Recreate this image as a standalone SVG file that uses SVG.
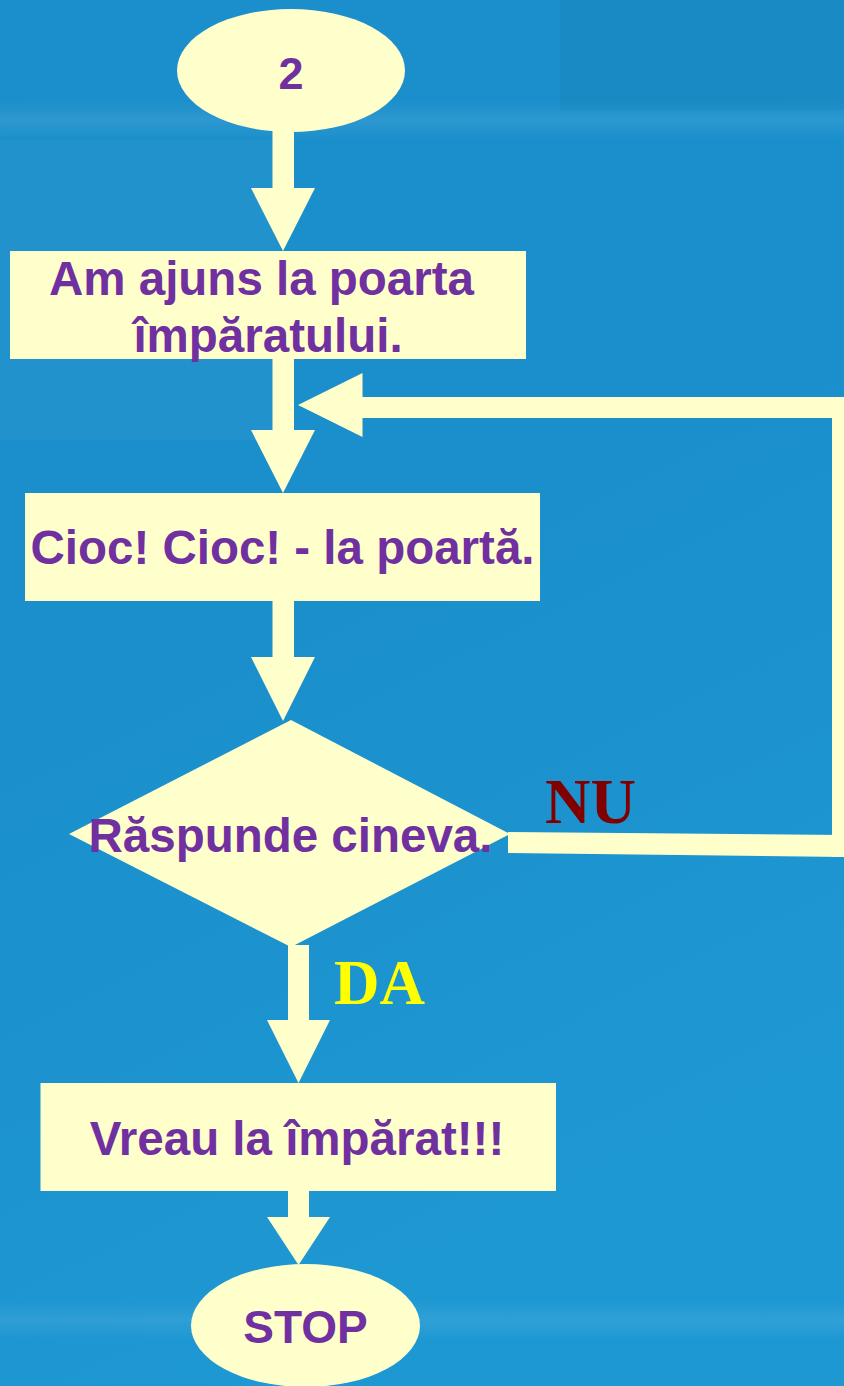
<svg xmlns="http://www.w3.org/2000/svg" width="844" height="1386" viewBox="0 0 844 1386">
  <defs>
    <linearGradient id="bg" x1="0" y1="0" x2="0.3" y2="1">
      <stop offset="0" stop-color="#1b8fcb"/>
      <stop offset="0.5" stop-color="#1a8fcc"/>
      <stop offset="1" stop-color="#1e98d3"/>
    </linearGradient>
    <linearGradient id="band" x1="0" y1="0" x2="0" y2="1">
      <stop offset="0" stop-color="#ffffff" stop-opacity="0"/>
      <stop offset="0.5" stop-color="#ffffff" stop-opacity="0.08"/>
      <stop offset="1" stop-color="#ffffff" stop-opacity="0"/>
    </linearGradient>
    <style>
      .shape { fill: #FFFFCC; }
      .edge { fill: #FFFFCC; }
      .lbl { font-family: "Liberation Sans", Arial, sans-serif; font-weight: bold; fill: #7030A0; text-anchor: middle; }
      .cond { font-family: "Liberation Serif", "Times New Roman", serif; font-weight: bold; font-size: 63px; }
    </style>
  </defs>

  <rect x="0" y="0" width="844" height="1386" fill="url(#bg)"/>
  <rect x="0" y="100" width="844" height="40" fill="url(#band)"/>
  <rect x="0" y="1300" width="844" height="40" fill="url(#band)"/>
  <rect x="0" y="140" width="280" height="300" fill="#ffffff" opacity="0.03"/>
  <rect x="560" y="0" width="284" height="110" fill="#000000" opacity="0.03"/>

  <g id="connectors">
    <rect class="edge" x="272.5" y="130" width="21.5" height="59"/>
    <polygon class="edge" points="251,188 315,188 283,251"/>
    <rect class="edge" x="272.5" y="358" width="21.5" height="73"/>
    <polygon class="edge" points="251,430 315,430 283,493"/>
    <rect class="edge" x="272.5" y="600" width="21.5" height="58"/>
    <polygon class="edge" points="251,657 315,657 283,721"/>
    <rect class="edge" x="288" y="945" width="21" height="76"/>
    <polygon class="edge" points="267,1020 330,1020 298.5,1083"/>
    <rect class="edge" x="288" y="1190" width="21" height="28"/>
    <polygon class="edge" points="267,1217 330,1217 298.5,1265"/>
    <g id="loop-nu">
      <polygon class="edge" points="508,832 844,835 844,857 508,853"/>
      <rect class="edge" x="832" y="397" width="12" height="460"/>
      <rect class="edge" x="360" y="397" width="484" height="21"/>
      <polygon class="edge" points="298,405 362.5,373 362.5,437"/>
    </g>
    <text class="cond" x="545" y="823" fill="#800000">NU</text>
    <text class="cond" x="334" y="1004" fill="#FFFF00" font-size="62">DA</text>
  </g>

  <g id="start">
    <ellipse class="shape" cx="291" cy="70.5" rx="114" ry="61.5"/>
    <text class="lbl" x="291" y="89" font-size="45">2</text>
  </g>

  <g id="step1">
    <rect class="shape" x="10" y="251" width="516" height="108"/>
    <text class="lbl" x="261.5" y="295" font-size="47.5">Am ajuns la poarta</text>
    <text class="lbl" x="268" y="352" font-size="47.5">împăratului.</text>
  </g>

  <g id="step2">
    <rect class="shape" x="25" y="493" width="515" height="108"/>
    <text class="lbl" x="282.5" y="564" font-size="47.5">Cioc! Cioc! - la poartă.</text>
  </g>

  <g id="decision">
    <polygon class="shape" points="291,720 510,834 291,947 69,834"/>
    <text class="lbl" x="290.5" y="852" font-size="47.5">Răspunde cineva.</text>
  </g>

  <g id="step3">
    <rect class="shape" x="40.5" y="1083" width="515.5" height="108"/>
    <text class="lbl" x="297" y="1155" font-size="47.5">Vreau la împărat!!!</text>
  </g>

  <g id="stop">
    <ellipse class="shape" cx="305.5" cy="1325.5" rx="114.5" ry="61.5"/>
    <text class="lbl" x="305.5" y="1343" font-size="46">STOP</text>
  </g>
</svg>
